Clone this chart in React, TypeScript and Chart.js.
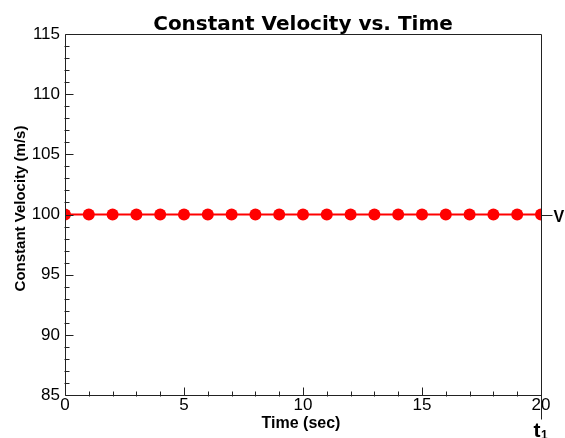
import React, { useEffect, useRef } from "react";
import { Chart, registerables } from "chart.js";

Chart.register(...registerables);

const times = [0, 1, 2, 3, 4, 5, 6, 7, 8, 9, 10, 11, 12, 13, 14, 15, 16, 17, 18, 19, 20];
const velocity = [100, 100, 100, 100, 100, 100, 100, 100, 100, 100, 100, 100, 100, 100, 100, 100, 100, 100, 100, 100, 100];
const xRange = [0, 20];
const yRange = [85, 115];
const majorStep = 5;
const minorStep = 1;
const chartTitle = "Constant Velocity vs. Time";
const xTitle = "Time (sec)";
const yTitle = "Constant Velocity (m/s)";
const seriesLabel = "V";
const timeLabel = "t";
const timeSub = "1";

const decorPlugin = {
  id: "decor",
  afterDraw(chart: any) {
    const ctx = chart.ctx;
    const { left, right, top, bottom } = chart.chartArea;
    const xs = chart.scales.x;
    const ys = chart.scales.y;
    const L = Math.round(left) + 0.5;
    const R = Math.round(right) + 0.5;
    const T = Math.round(top) + 0.5;
    const B = Math.round(bottom) + 0.5;
    ctx.save();
    ctx.strokeStyle = "#222";
    ctx.lineWidth = 1;
    // frame
    ctx.beginPath();
    ctx.moveTo(L, T);
    ctx.lineTo(R, T);
    ctx.lineTo(R, B + 24);
    ctx.moveTo(L, T);
    ctx.lineTo(L, B);
    ctx.lineTo(R, B);
    ctx.stroke();
    // ticks
    ctx.beginPath();
    for (let v = yRange[0]; v <= yRange[1]; v += minorStep) {
      const py = Math.round(ys.getPixelForValue(v)) + 0.5;
      const major = v % majorStep === 0;
      ctx.moveTo(L - (major ? 0 : 1), py);
      ctx.lineTo(L + (major ? 8 : 4), py);
    }
    for (let v = xRange[0]; v <= xRange[1]; v += minorStep) {
      const px = Math.round(xs.getPixelForValue(v)) + 0.5;
      const major = v % majorStep === 0;
      ctx.moveTo(px, B + (major ? 0 : 1));
      ctx.lineTo(px, B - (major ? 8 : 4));
    }
    // V marker line
    const vy = Math.round(ys.getPixelForValue(velocity[velocity.length - 1])) + 0.5;
    ctx.moveTo(R, vy);
    ctx.lineTo(R + 11, vy);
    ctx.stroke();

    ctx.fillStyle = "#000";
    // title
    ctx.font = "bold 20px 'DejaVu Sans'";
    ctx.textAlign = "center";
    ctx.textBaseline = "alphabetic";
    ctx.fillText(chartTitle, (left + right) / 2, 30);
    // x title
    ctx.font = "bold 16px 'Liberation Sans'";
    ctx.fillText(xTitle, (left + right) / 2 - 2, 428);
    // y title
    ctx.save();
    ctx.translate(25, (top + bottom) / 2 - 6);
    ctx.rotate(-Math.PI / 2);
    ctx.font = "bold 15px 'Liberation Sans'";
    ctx.fillText(yTitle, 0, 0);
    ctx.restore();
    // V label
    ctx.textAlign = "left";
    ctx.font = "bold 16px 'Liberation Sans'";
    ctx.fillText(seriesLabel, R + 12, vy + 6);
    // t1 label
    ctx.font = "bold 21px 'Liberation Sans'";
    ctx.fillText(timeLabel, R - 8, 437);
    ctx.font = "bold 12px 'Liberation Sans'";
    ctx.fillText(timeSub, R - 0.5, 439);
    ctx.restore();
  },
};

export default function App() {
  const ref = useRef<HTMLCanvasElement>(null);
  useEffect(() => {
    if (!ref.current) return;
    const chart = new Chart(ref.current, {
      type: "line",
      data: {
        datasets: [
          {
            label: seriesLabel,
            data: times.map((t, i) => ({ x: t, y: velocity[i] })),
            borderColor: "#ff0000",
            backgroundColor: "#ff0000",
            borderWidth: 2,
            pointRadius: 6,
            pointStyle: "circle",
            pointBorderWidth: 0,
            pointBackgroundColor: "#ff0000",
          },
        ],
      },
      options: {
        animation: false,
        responsive: false,
        layout: { padding: { left: 0, top: 34, right: 24, bottom: 0 } },
        plugins: { legend: { display: false }, title: { display: false }, tooltip: { enabled: false } },
        scales: {
          x: {
            type: "linear",
            min: xRange[0],
            max: xRange[1],
            grid: { display: false, drawTicks: false },
            border: { display: false },
            ticks: {
              stepSize: majorStep,
              padding: 0,
              color: "#000",
              font: { family: "'Liberation Sans'", size: 17 },
            },
            afterFit: (s: any) => {
              s.height = 43;
            },
          },
          y: {
            type: "linear",
            min: yRange[0],
            max: yRange[1],
            grid: { display: false, drawTicks: false },
            border: { display: false },
            ticks: {
              stepSize: majorStep,
              padding: 5,
              color: "#000",
              font: { family: "'Liberation Sans'", size: 17 },
            },
            afterFit: (s: any) => {
              s.width = 65;
            },
          },
        },
      },
      plugins: [decorPlugin],
    });
    return () => chart.destroy();
  }, []);
  return (
    <div style={{ position: "fixed", left: 0, top: 0, width: 565, height: 438, background: "#fff" }}>
      <canvas ref={ref} width={565} height={438} style={{ display: "block" }} />
    </div>
  );
}
